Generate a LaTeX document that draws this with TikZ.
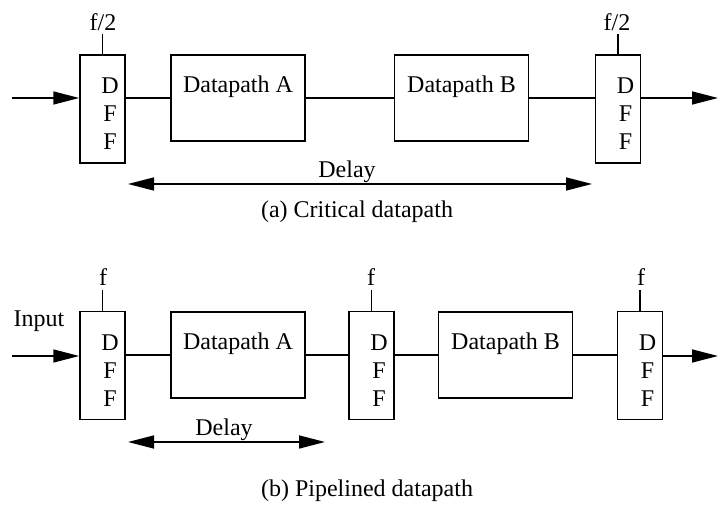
\documentclass[tikz,border=0pt]{standalone}
\usepackage{fontspec}
\setmainfont{Liberation Serif}
\usetikzlibrary{arrows.meta}

\begin{document}
\begin{tikzpicture}[x=0.5pt,y=-0.5pt,line width=0.75pt,
  font=\fontsize{12}{14}\selectfont,
  dff/.style={draw,minimum width=22.5pt,minimum height=54pt,inner sep=0pt,
    label={[align=center,xshift=3.75pt,yshift=-2.5pt,font=\fontsize{12}{14}\selectfont]center:D\\F\\F}},
  dpath/.style={draw,minimum width=67pt,minimum height=43pt,inner sep=0pt,
    text height=9pt,text depth=14pt},
  tip/.style={-{Triangle[length=13pt,width=6.5pt]}},
  twotip/.style={{Triangle[length=13pt,width=6.5pt]}-{Triangle[length=13pt,width=6.5pt]}}]

  \useasboundingbox (0,0) rectangle (718,506);

  % (a) critical datapath
  \node[dff] (a1) at (102.5,109) {};
  \node[dff] (a2) at (618,109) {};
  \node[dpath] (dpa) at (238,98) {Datapath A};
  \node[dpath] (dpb) at (461.5,98) {Datapath B};

  \node (ca1) at (103,22) {f/2};
  \node (ca2) at (617,22) {f/2};
  \draw (a1.north) -- (a1.north |- 0,34);
  \draw (a2.north) -- (a2.north |- 0,34);

  \coordinate (ina) at (12,98);
  \coordinate (outa) at (718,98);
  \draw[tip] (ina) -- (a1.west |- ina);
  \draw (a1.east |- dpa.west) -- (dpa.west);
  \draw (dpa.east) -- (dpb.west);
  \draw (dpb.east) -- (a2.west |- dpb.east);
  \draw[tip] (a2.east |- outa) -- (outa);

  \coordinate (dla) at (128,184);
  \coordinate (dra) at (592,184);
  \draw[twotip] (dla) -- (dra);
  \node (delaya) at (347,172) {Delay};
  \node (capa) at (357,212) {(a) Critical datapath};

  % (b) pipelined datapath
  \node[dff] (b1) at (102.5,365.5) {};
  \node[dff] (b2) at (371.5,365.5) {};
  \node[dff] (b3) at (640,365.5) {};
  \node[dpath] (dqa) at (238,355) {Datapath A};
  \node[dpath] (dqb) at (505.5,355) {Datapath B};

  \node (cb1) at (103,277) {f};
  \node (cb2) at (371,277) {f};
  \node (cb3) at (641,277) {f};
  \draw (b1.north) -- (b1.north |- 0,290);
  \draw (b2.north) -- (b2.north |- 0,290);
  \draw (b3.north) -- (b3.north |- 0,290);

  \node (input) at (39,321) {Input};
  \coordinate (inb) at (12,356);
  \coordinate (outb) at (718,356);
  \draw[tip] (inb) -- (b1.west |- inb);
  \draw (b1.east |- dqa.west) -- (dqa.west);
  \draw (dqa.east) -- (b2.west |- dqa.east);
  \draw (b2.east |- dqb.west) -- (dqb.west);
  \draw (dqb.east) -- (b3.west |- dqb.east);
  \draw[tip] (b3.east |- outb) -- (outb);

  \coordinate (dlb) at (128,442);
  \coordinate (drb) at (325,442);
  \draw[twotip] (dlb) -- (drb);
  \node (delayb) at (224,430) {Delay};
  \node (capb) at (367,491) {(b) Pipelined datapath};

\end{tikzpicture}
\end{document}
